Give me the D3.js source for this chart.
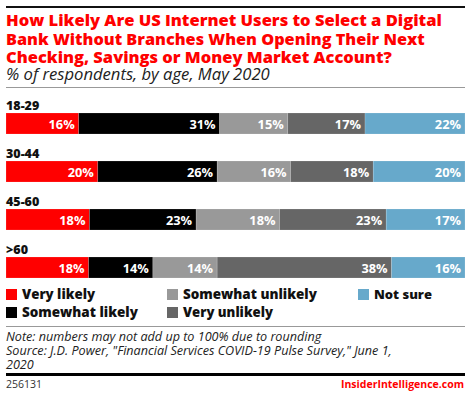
<!DOCTYPE html>
<html><head><meta charset="utf-8">
<script src="https://cdn.jsdelivr.net/npm/d3@7/dist/d3.min.js"></script>
<style>body{margin:0;background:#fff}svg{display:block}</style>
</head><body>
<script>
const categories = ["18-29", "30-44", "45-60", ">60"];
const seriesNames = ["Very likely", "Somewhat likely", "Somewhat unlikely", "Very unlikely", "Not sure"];
const veryLikely = [16, 20, 18, 18];
const somewhatLikely = [31, 26, 23, 14];
const somewhatUnlikely = [15, 16, 18, 14];
const veryUnlikely = [17, 18, 23, 38];
const notSure = [22, 20, 17, 16];
const colors = ["#ff0000", "#000000", "#999999", "#666666", "#67a9cb"];
const titleLines = ["How Likely Are US Internet Users to Select a Digital",
  "Bank Without Branches When Opening Their Next",
  "Checking, Savings or Money Market Account?"];
const subtitle = "% of respondents, by age, May 2020";
const notes = ["Note: numbers may not add up to 100% due to rounding",
  "Source: J.D. Power, \"Financial Services COVID-19 Pulse Survey,\" June 1,",
  "2020"];

const W = 471, H = 396;
const svg = d3.select("body").append("svg").attr("width", W).attr("height", H);
const font = "'Open Sans', 'DejaVu Sans', sans-serif";

function fit(sel, target) {
  const len = sel.node().getComputedTextLength();
  const fs = parseFloat(sel.attr("font-size"));
  sel.attr("font-size", (fs * target / len).toFixed(2));
}

svg.append("rect").attr("x", 6).attr("y", 6).attr("width", 459).attr("height", 2).attr("fill", "#111");

const titleBase = [26, 44.5, 63];
const titleW = [436, 419, 386];
titleLines.forEach((t, i) => {
  const s = svg.append("text").attr("x", 6).attr("y", titleBase[i]).attr("font-family", font)
    .attr("font-weight", 800).attr("font-size", 16).attr("fill", "#ff0000").text(t);
  fit(s, titleW[i]);
});
const st = svg.append("text").attr("x", 6).attr("y", 80).attr("font-family", font).attr("font-style", "italic")
  .attr("font-size", 15).attr("fill", "#222").text(subtitle);
fit(st, 264);
svg.append("rect").attr("x", 6).attr("y", 87).attr("width", 459).attr("height", 1).attr("fill", "#999");

const data = categories.map((c, i) => ({
  cat: c,
  vals: [veryLikely[i], somewhatLikely[i], somewhatUnlikely[i], veryUnlikely[i], notSure[i]]
}));

const y = d3.scaleBand().domain(categories).range([97, 289]).paddingInner(0).paddingOuter(0);
const barH = 21;
const left = 6, right = 465;

data.forEach(d => {
  const total = d3.sum(d.vals);
  const x = d3.scaleLinear().domain([0, total]).range([left, right]);
  const by = y(d.cat) + 16;
  const cl = svg.append("text").attr("x", 6).attr("y", by - 3).attr("font-family", font).attr("font-weight", 800)
    .attr("font-size", 12.5).attr("fill", "#111").text(d.cat);
  let cum = 0;
  const g = svg.append("g");
  d.vals.forEach((v, k) => {
    const x0 = x(cum), x1 = x(cum + v);
    g.append("rect").attr("x", x0).attr("y", by).attr("width", x1 - x0).attr("height", barH)
      .attr("fill", colors[k]).attr("stroke", "rgba(255,255,255,0.25)").attr("stroke-width", 0.6);
    g.append("text").attr("x", x1 - 4).attr("y", by + 15.5).attr("text-anchor", "end")
      .attr("font-family", font).attr("font-weight", 700).attr("font-size", 12.8).attr("fill", "#fff")
      .text(v + "%");
    cum += v;
  });
});

const legPos = [[6, 289], [6, 307], [167, 289], [167, 307], [358, 289]];
const legW = [73, 116, 134, 90, 58];
seriesNames.forEach((n, k) => {
  const [lx, ly] = legPos[k];
  svg.append("rect").attr("x", lx).attr("y", ly).attr("width", 11).attr("height", 11).attr("fill", colors[k]);
  const t = svg.append("text").attr("x", lx + 16).attr("y", ly + 10).attr("font-family", font).attr("font-weight", 800)
    .attr("font-size", 14).attr("fill", "#111").text(n);
  fit(t, legW[k]);
});

svg.append("rect").attr("x", 6).attr("y", 326).attr("width", 459).attr("height", 1).attr("fill", "#999");
const noteBase = [340.5, 355, 369];
notes.forEach((t, i) => {
  svg.append("text").attr("x", 6).attr("y", noteBase[i]).attr("font-family", font).attr("font-style", "italic")
    .attr("font-size", 12.6).attr("fill", "#222").text(t);
});
svg.append("rect").attr("x", 6).attr("y", 373).attr("width", 459).attr("height", 3).attr("fill", "#000");
svg.append("text").attr("x", 6).attr("y", 388).attr("font-family", font).attr("font-size", 10.5).attr("fill", "#333").text("256131");
svg.append("text").attr("x", 464).attr("y", 388).attr("text-anchor", "end").attr("font-family", font).attr("font-weight", 700)
  .attr("font-size", 10.5).attr("fill", "#ff0000").text("InsiderIntelligence.com");
</script>
</body></html>
